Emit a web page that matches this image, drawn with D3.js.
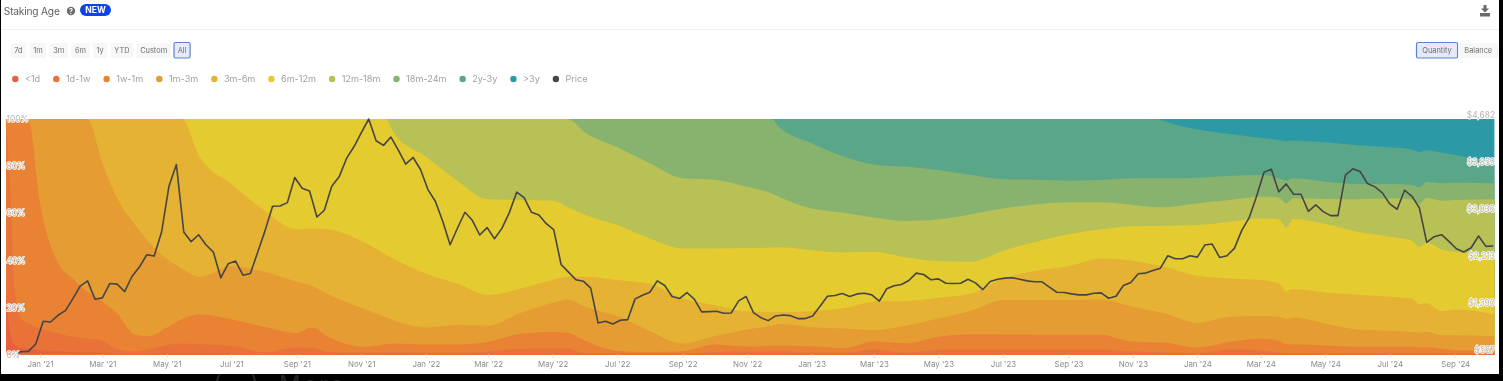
<!DOCTYPE html>
<html lang="en">
<head>
    <meta charset="UTF-8">
    <title>Staking Age</title>
    <script src="https://d3js.org/d3.v7.min.js"></script>
    <style>
        html, body {
            margin: 0;
            background: #000;
            overflow: hidden;
        }
        svg {
            display: block;
            font-family: Inter, "Noto Sans", sans-serif;
            /* the reference is a soft, upscaled screenshot */
            filter: blur(.45px);
        }
        .axis path {
            display: none;
        }
        .x-axis line {
            stroke: #dfdfdf;
        }
        .x-axis text {
            fill: #8b8b8b;
            font-size: 7.9px;
            font-family: Inter, sans-serif;
        }
        .pct-axis text, .price-axis text {
            fill: #b5b5b5;
            font-size: 8.4px;
            font-family: Inter, sans-serif;
            paint-order: stroke;
            stroke: #fff;
            stroke-width: 1.6px;
        }
    </style>
</head>
<body>
    <svg width="1503" height="381"></svg>
    <script>
        // Labels
        const rangeButtons = ["7d", "1m", "3m", "6m", "1y", "YTD", "Custom", "All"];
        const unitButtons = ["Quantity", "Balance"];
        const ageBands = ["<1d", "1d-1w", "1w-1m", "1m-3m", "3m-6m", "6m-12m", "12m-18m", "18m-24m", "2y-3y", ">3y"];
        const bandColors = ["#e8603c", "#e97238", "#ea8234", "#e49c33", "#e6b233", "#e4cb30", "#b8c155", "#87b36f", "#5aa688", "#2b9aa6"];
        const priceColor = "#454545";

        const pctTicks = [0, 20, 40, 60, 80, 100];
        const priceTicks = [567, 1390, 2213, 3036, 3859, 4682];
        const monthTicks = [
            "2021-01-01", "2021-03-01", "2021-05-01", "2021-07-01", "2021-09-01", "2021-11-01",
            "2022-01-01", "2022-03-01", "2022-05-01", "2022-07-01", "2022-09-01", "2022-11-01",
            "2023-01-01", "2023-03-01", "2023-05-01", "2023-07-01", "2023-09-01", "2023-11-01",
            "2024-01-01", "2024-03-01", "2024-05-01", "2024-07-01", "2024-09-01"
        ];

        // Sample dates of the stacked bands
        const bandDates = [
            "2020-11-30", "2020-12-04", "2020-12-08", "2020-12-14", "2020-12-21", "2021-01-01", "2021-01-16", "2021-02-01",
            "2021-02-15", "2021-03-01", "2021-03-15", "2021-04-01", "2021-04-15", "2021-05-01", "2021-05-15", "2021-06-01",
            "2021-07-01", "2021-08-01", "2021-09-01", "2021-09-15", "2021-10-01", "2021-11-01", "2021-11-24", "2021-12-01",
            "2022-01-01", "2022-02-01", "2022-03-01", "2022-04-01", "2022-05-01", "2022-05-15", "2022-06-01", "2022-07-01",
            "2022-08-01", "2022-09-01", "2022-10-01", "2022-11-01", "2022-11-24", "2022-12-01",
            "2023-01-01", "2023-02-01", "2023-03-01", "2023-04-01", "2023-05-01", "2023-06-01", "2023-07-01", "2023-08-01",
            "2023-09-01", "2023-10-01", "2023-11-01", "2023-11-25", "2023-12-01",
            "2024-01-01", "2024-02-01", "2024-03-01", "2024-03-18", "2024-03-25", "2024-04-01", "2024-05-01", "2024-06-01",
            "2024-07-01", "2024-07-22", "2024-07-29", "2024-08-05", "2024-08-19", "2024-09-01", "2024-10-08"
        ];

        // Cumulative share (%) at the top of each band, same order as bandDates
        const topLt1d = [
            24.5, 8.9, 4.0, 3.0, 2.4, 1.8, 1.4, 1.0, .8, .7, .3, .3, .3, .4, .4, .4, .3, .2, .3, .3, .2, .3, .3, .3,
            .3, .3, .3, .3, .3, .3, .3, .3, .3, .3, .3, .3, .3, .3,
            .3, .3, .3, .3, .3, .3, .3, .3, .3, .3, .3, .3, .3,
            .3, .3, .3, .3, .3, .3, .3, .3, .3, .3, .3, .3, .3, .3, .3
        ];
        const top1d1w = [
            100, 68.4, 27.3, 15.3, 13.2, 11.0, 9.2, 7.5, 6.8, 5.9, 2.1, 1.3, 2.4, 4.0, 4.7, 4.4, 3.7, 1.0, 3.0, 2.8, 1.1, .8, .9, 1.0,
            .8, .7, 1.3, 2.4, 2.5, 2.4, .6, .5, .5, .5, 1.0, 1.3, 1.3, 1.3,
            .7, .7, 2.1, .7, 2.0, 2.1, 2.1, 2.1, 2.1, 2.1, 1.4, 1.0, .8,
            .5, 2.1, 1.7, .8, .6, .5, .5, .4, .4, .4, .4, .4, .4, .4, .4
        ];
        const top1w1m = [
            100, 100, 100, 100, 99.6, 64.2, 40.8, 32.3, 26.6, 22.4, 17.4, 8.4, 7.9, 11.5, 15.0, 17.1, 15.0, 11.8, 9.2, 11.5, 7.5, 3.3, 4.4, 4.7,
            4.2, 4.2, 5.4, 8.8, 9.6, 9.2, 5.8, 1.6, 1.1, 1.4, 4.2, 3.4, 3.7, 3.8,
            3.5, 2.7, 5.5, 4.7, 7.5, 8.6, 8.5, 8.4, 8.4, 8.4, 5.4, 5.1, 5.0,
            3.0, 5.4, 6.7, 5.7, 4.4, 4.4, 3.8, 3.3, 3.3, 3.3, 3.0, 3.1, 2.4, 1.8, 1.6
        ];
        const top1m3m = [
            100, 100, 100, 100, 100, 100, 100, 100, 100, 81.2, 66.3, 55.0, 47.2, 40.5, 36.5, 33.0, 37.5, 35.1, 30.9, 29.2, 25.5, 19.8, 15.8, 14.6,
            11.5, 12.5, 12.2, 17.7, 22.0, 23.4, 20.3, 16.3, 9.9, 4.7, 7.8, 10.6, 12.2, 12.9,
            11.6, 11.0, 10.3, 12.3, 15.3, 18.6, 23.1, 23.1, 23.1, 23.4, 20.3, 18.0, 17.4,
            13.5, 16.0, 16.3, 16.0, 15.0, 15.7, 13.2, 10.6, 10.1, 9.6, 9.3, 9.6, 8.2, 8.2, 7.8
        ];
        const top3m6m = [
            100, 100, 100, 100, 100, 100, 100, 100, 100, 100, 100, 100, 100, 100, 100, 84.0, 72.4, 61.3, 53.1, 53.5, 53.1, 48.3, 42.5, 40.8,
            34.4, 29.9, 25.2, 28.0, 31.6, 33.0, 33.0, 31.6, 29.9, 23.8, 21.0, 18.3, 18.1, 18.0,
            18.4, 19.7, 22.4, 22.7, 24.1, 25.9, 32.3, 35.6, 37.5, 40.8, 39.8, 37.8, 37.3,
            33.4, 32.3, 31.6, 30.2, 26.9, 27.8, 26.3, 25.4, 24.5, 23.7, 21.4, 21.8, 18.4, 19.1, 17.1
        ];
        const top6m12m = [
            100, 100, 100, 100, 100, 100, 100, 100, 100, 100, 100, 100, 100, 100, 100, 100, 100, 100, 100, 100, 100, 100, 100, 94.6,
            84.0, 73.4, 65.9, 65.6, 65.3, 62.7, 59.2, 55.0, 49.3, 45.0, 45.0, 45.2, 45.4, 45.5,
            44.3, 43.3, 43.6, 41.2, 39.7, 39.4, 44.0, 47.9, 51.1, 53.1, 54.5, 54.6, 54.7,
            55.0, 56.4, 57.8, 57.4, 54.0, 57.5, 55.4, 52.1, 50.0, 48.3, 45.7, 47.4, 44.6, 43.6, 42.2
        ];
        const top12m18m = [
            100, 100, 100, 100, 100, 100, 100, 100, 100, 100, 100, 100, 100, 100, 100, 100, 100, 100, 100, 100, 100, 100, 100, 100,
            100, 100, 100, 100, 100, 100, 94.2, 88.0, 81.2, 74.8, 74.2, 71.2, 68.4, 67.0,
            62.0, 60.2, 58.2, 56.7, 57.4, 59.6, 62.0, 63.7, 64.6, 64.6, 63.5, 62.5, 62.5,
            64.2, 65.6, 67.0, 66.7, 64.2, 66.3, 66.0, 65.9, 66.3, 65.9, 64.0, 66.6, 65.3, 65.6, 65.9
        ];
        const top18m24m = [
            100, 100, 100, 100, 100, 100, 100, 100, 100, 100, 100, 100, 100, 100, 100, 100, 100, 100, 100, 100, 100, 100, 100, 100,
            100, 100, 100, 100, 100, 100, 100, 100, 100, 100, 100, 100, 100, 96.7,
            89.7, 84.0, 80.7, 79.7, 78.3, 76.2, 74.4, 74.2, 73.8, 74.1, 74.8, 74.8, 74.8,
            75.1, 75.8, 76.2, 74.8, 73.8, 74.8, 73.4, 72.4, 72.4, 72.1, 71.0, 73.2, 72.7, 72.9, 72.7
        ];
        const top2y3y = [
            100, 100, 100, 100, 100, 100, 100, 100, 100, 100, 100, 100, 100, 100, 100, 100, 100, 100, 100, 100, 100, 100, 100, 100,
            100, 100, 100, 100, 100, 100, 100, 100, 100, 100, 100, 100, 100, 100,
            100, 100, 100, 100, 100, 100, 100, 100, 100, 100, 100, 100, 99.0,
            95.6, 93.6, 91.9, 91.1, 90.6, 90.9, 90.1, 88.9, 88.0, 87.1, 86.0, 86.7, 85.8, 84.7, 81.4
        ];
        const topOver3y = bandDates.map(() => 100);

        // Weekly price in USD, first week starts here
        const priceStart = "2020-12-07";
        const priceValues = [
            575, 615, 621, 750, 1147, 1135, 1252, 1334, 1539, 1761, 1854, 1533, 1556, 1807, 1796, 1667, 1930, 2094, 2310, 2287,
            2707, 3508, 3887, 2707, 2538, 2660, 2485, 2357, 1907, 2152, 2199, 1953, 1983, 2357, 2736, 3157, 3163, 3221, 3660, 3473,
            3426, 2970, 3087, 3508, 3671, 3993, 4197, 4443, 4682, 4302, 4221, 4367, 4139,
            3893, 4010, 3800, 3449, 3245, 2894, 2485, 2777, 3052, 2912, 2655, 2783, 2590, 2771, 3046, 3403, 3309, 3052, 3005, 2853,
            2748, 2140, 2006, 1872, 1848, 1726, 1118, 1147, 1100, 1165, 1176, 1539, 1603, 1655, 1854, 1772, 1580, 1544, 1650, 1533,
            1311, 1317, 1322, 1287, 1293, 1504, 1580, 1299, 1211, 1159, 1241, 1258, 1246, 1194,
            1194, 1241, 1410, 1585, 1597, 1632, 1580, 1626, 1638, 1609, 1498, 1714, 1767, 1790, 1860, 1989, 1965, 1872, 1889, 1813,
            1807, 1813, 1883, 1819, 1702, 1842, 1883, 1901, 1907, 1883, 1854, 1837, 1837, 1743, 1655, 1650, 1626, 1609, 1609, 1638,
            1644, 1550, 1585, 1772, 1825, 1977, 1989,
            2035, 2076, 2292, 2240, 2240, 2292, 2269, 2479, 2497, 2263, 2292, 2421, 2736, 2958, 3332, 3753, 3806, 3408, 3549, 3367,
            3367, 3069, 3181, 3064, 2994, 2994, 3701, 3811, 3765, 3554, 3496, 3391, 3198, 3105, 3438, 3332, 3128, 2526, 2625, 2660,
            2544, 2415, 2357, 2433, 2637, 2456, 2462
        ];

        const bandTops = [topLt1d, top1d1w, top1w1m, top1m3m, top3m6m, top6m12m, top12m18m, top18m24m, top2y3y, topOver3y];

        const svg = d3.select("svg");
        const parseDate = d3.utcParse("%Y-%m-%d");

        // White page on the black screenshot frame
        svg.append("rect")
            .attr("x", 1).attr("y", 0)
            .attr("width", 1498).attr("height", 374)
            .attr("fill", "#fff");

        // Ghost of the page below the screenshot
        svg.append("text")
            .attr("x", 213).attr("y", 393)
            .attr("fill", "#242424")
            .attr("font-size", 24)
            .attr("word-spacing", 9)
            .attr("letter-spacing", 2)
            .text("(···)  More");

        // Header
        svg.append("text")
            .attr("x", 3.8).attr("y", 15)
            .attr("fill", "#5c5c5c")
            .attr("font-size", 10.2)
            .attr("letter-spacing", -.2)
            .text("Staking Age");
        svg.append("circle")
            .attr("cx", 71).attr("cy", 11).attr("r", 4.2)
            .attr("fill", "#6d6d6d");
        svg.append("text")
            .attr("x", 71).attr("y", 13.6)
            .attr("text-anchor", "middle")
            .attr("fill", "#fff")
            .attr("font-size", 7)
            .attr("font-weight", 700)
            .text("?");
        svg.append("rect")
            .attr("x", 80).attr("y", 4)
            .attr("width", 31).attr("height", 12)
            .attr("rx", 6)
            .attr("fill", "#0b45e8");
        svg.append("text")
            .attr("x", 95.5).attr("y", 13)
            .attr("text-anchor", "middle")
            .attr("fill", "#fff")
            .attr("font-size", 8.5)
            .attr("font-weight", 700)
            .text("NEW");
        svg.append("path")
            .attr("d", "M1483.5 5h3v3.5h2.6l-4.1 4-4.1-4h2.6zM1480 13h10v3.5h-10z")
            .attr("fill", "#6a6a6a");
        svg.append("line")
            .attr("x1", 1).attr("x2", 1499)
            .attr("y1", 29.5).attr("y2", 29.5)
            .attr("stroke", "#efefef");

        // Buttons, widths follow the text
        function drawButtons(labels, startX, selected, pad, gap) {
            let bx = startX;
            labels.forEach(label => {
                const t = svg.append("text")
                    .attr("y", 53.2)
                    .attr("fill", "#6f6f6f")
                    .attr("font-size", 7.4)
                    .text(label);
                const w = t.node().getComputedTextLength() + pad * 2;
                const on = label === selected;
                svg.insert("rect", "text:last-of-type")
                    .attr("x", bx + .5).attr("y", on ? 42.5 : 43)
                    .attr("width", w).attr("height", on ? 15.5 : 15)
                    .attr("rx", 1.5)
                    .attr("fill", on ? "#e5e9f8" : "#f7f7f7")
                    .attr("stroke", on ? "#5f84cf" : "none")
                    .attr("stroke-width", on ? 1.2 : 0);
                t.attr("x", bx + .5 + pad).raise();
                bx += w + gap;
            });
        }
        drawButtons(rangeButtons, 10, "All", 3.7, 3.2);
        drawButtons(unitButtons, 1416, "Quantity", 5.8, 1);

        // Legend
        let lx = 15.3;
        ageBands.concat("Price").forEach((name, i) => {
            svg.append("circle")
                .attr("cx", lx).attr("cy", 79).attr("r", 3.2)
                .attr("fill", i < ageBands.length ? bandColors[i] : priceColor);
            const t = svg.append("text")
                .attr("x", lx + 9.6).attr("y", 82.4)
                .attr("fill", "#a0a0a0")
                .attr("font-size", 9.1)
                .text(name);
            lx += 9.6 + t.node().getComputedTextLength() + 16.1;
        });

        // Scales
        const x = d3.scaleUtc()
            .domain([parseDate("2020-11-30"), parseDate("2024-10-08")])
            .range([6.2, 1494.4]);
        const yPct = d3.scaleLinear().domain([0, 100]).range([354.5, 119]);
        const yPrice = d3.scaleLinear().domain([567, 4682]).range([354.5, 119]);

        // Bands are painted from the oldest down, each one reaching the baseline
        const area = d3.area()
            .x(d => x(d.date))
            .y0(yPct(0))
            .y1(d => yPct(d.high))
            .curve(d3.curveMonotoneX);

        d3.range(bandTops.length - 1, -1, -1).forEach(i => {
            const rows = bandDates.map((d, j) => ({ date: parseDate(d), high: bandTops[i][j] }));
            svg.append("path")
                .datum(rows)
                .attr("d", area)
                .attr("fill", bandColors[i]);
        });

        // Price line
        const firstWeek = parseDate(priceStart);
        const line = d3.line()
            .x((d, i) => x(d3.utcDay.offset(firstWeek, i * 7)))
            .y(d => yPrice(d));
        svg.append("path")
            .datum(priceValues)
            .attr("d", line)
            .attr("fill", "none")
            .attr("stroke", priceColor)
            .attr("stroke-width", 1.6)
            .attr("stroke-linejoin", "round");

        // Axes
        svg.append("g")
            .attr("class", "axis x-axis")
            .attr("transform", "translate(0,354.5)")
            .call(d3.axisBottom(x)
                .tickValues(monthTicks.map(parseDate))
                .tickSize(3)
                .tickPadding(3.5)
                .tickFormat(d3.utcFormat("%b '%y")));

        svg.append("g")
            .attr("class", "axis pct-axis")
            .attr("transform", "translate(6.5,0)")
            .call(d3.axisRight(yPct)
                .tickValues(pctTicks)
                .tickSize(0)
                .tickPadding(0)
                .tickFormat(d => d + "%"));

        svg.append("g")
            .attr("class", "axis price-axis")
            .attr("transform", "translate(1495,-4.7)")
            .call(d3.axisLeft(yPrice)
                .tickValues(priceTicks)
                .tickSize(0)
                .tickPadding(0)
                .tickFormat(d => "$" + d3.format(",")(d)));
    </script>
</body>
</html>
